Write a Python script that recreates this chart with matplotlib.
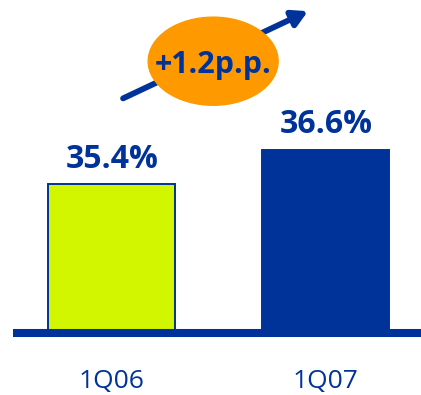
import matplotlib.pyplot as plt
from matplotlib.patches import Ellipse

# ── Data ──────────────────────────────────────────────────────────────────────
quarters = ["1Q06", "1Q07"]
ratios = [35.4, 36.6]
change_pp = 1.2

BASE = 30.2          # value at the drawn baseline
NAVY = "#003399"
LIME = "#D2F500"
ORANGE = "#FF9900"

plt.rcParams["font.family"] = ["Open Sans", "DejaVu Sans"]

fig = plt.figure(figsize=(4.21, 3.95), dpi=100)
ax = fig.add_axes([0, 0, 1, 1])
ax.set_xlim(-0.522, 1.445)
ax.set_ylim(28.03, 41.84)
ax.axis("off")

x = range(len(quarters))
bars = ax.bar(x, [v - BASE for v in ratios], bottom=BASE, width=0.593,
              color=[LIME, NAVY], edgecolor=[NAVY, NAVY], linewidth=1.4, zorder=2)

ax.axhline(BASE, xmin=13 / 421, xmax=1, color=NAVY, lw=5.8, zorder=3,
           solid_capstyle="butt")

for xi, v in zip(x, ratios):
    ax.annotate(f"{v:.1f}%", (xi, v), xytext=(0, 12), textcoords="offset points",
                ha="center", va="baseline", fontsize=23, fontweight="bold",
                color=NAVY)
    ax.annotate(quarters[xi], (xi, BASE), xytext=(0, -35), textcoords="offset points",
                ha="center", va="center", fontsize=19, color=NAVY)

# trend arrow with the change bubble on top
ax.annotate("", xy=(0.917, 41.45), xytext=(0.053, 38.4),
            arrowprops=dict(arrowstyle="-|>,head_length=0.9,head_width=0.5",
                        color=NAVY, lw=4.2, shrinkA=0, shrinkB=0), zorder=4)
ax.add_patch(Ellipse((0.474, 39.7), 0.607, 3.08, color=ORANGE, zorder=5))
ax.text(0.474, 39.55, f"+{change_pp:.1f}p.p.", ha="center", va="center",
        fontsize=22, fontweight="bold", color=NAVY, zorder=6)

fig.savefig("out.png", dpi=100)
